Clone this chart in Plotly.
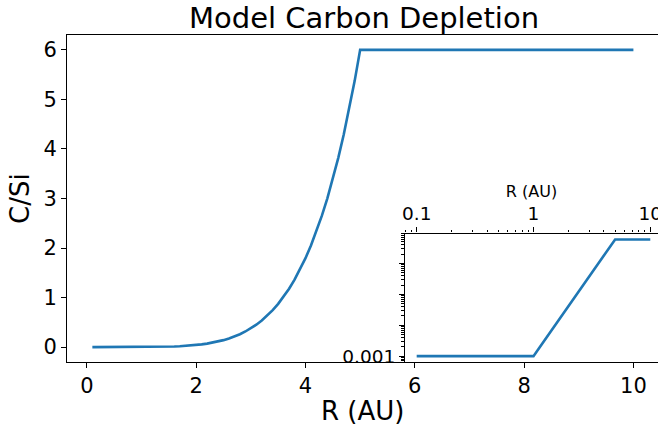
import plotly.graph_objects as go

# Carbon-to-silicon ratio across the disc radius
r_au = [0.1, 0.5, 1.0, 1.1, 1.2, 1.3, 1.4, 1.5, 1.6, 1.7, 1.8, 1.9,
        2.0, 2.1, 2.2, 2.3, 2.4, 2.5, 2.6, 2.7, 2.8, 2.9,
        3.0, 3.1, 3.2, 3.3, 3.4, 3.5, 3.6, 3.7, 3.8, 3.9,
        4.0, 4.1, 4.2, 4.3, 4.4, 4.5, 4.6, 4.7, 4.8, 4.9, 5.0, 10.0]
c_si = [0.001, 0.001, 0.001, 0.00167, 0.00268, 0.00413, 0.00616, 0.00895,
        0.0127, 0.0176, 0.0240, 0.0321,
        0.0424, 0.0552, 0.0709, 0.0902, 0.1135, 0.1415, 0.175, 0.215, 0.261, 0.316,
        0.379, 0.453, 0.538, 0.635, 0.746, 0.873, 1.016, 1.178, 1.361, 1.566,
        1.796, 2.052, 2.337, 2.654, 3.004, 3.393, 3.821, 4.291, 4.808, 5.374,
        6.0, 6.0]

main_xticks = [0, 2, 4, 6, 8, 10]
main_yticks = [0, 1, 2, 3, 4, 5, 6]
inset_xticks = [0.1, 1, 10]
inset_xlabels = ["0.1", "1", "10"]
inset_yticks = [0.001, 0.01, 0.1, 1, 10]
inset_ylabels = ["0.001", "", "", "", ""]

W, H = 658, 430
ML, MR, MT, MB = 67, 0, 35, 68
FONT = "DejaVu Sans"
BLUE = "#1f77b4"

# inset box in pixels
inset_left, inset_top = 405, 233.5
pw, ph = W - ML - MR, H - MT - MB
inset_dx = [(inset_left - ML) / pw, 1.0]
inset_dy = [0.0, (H - MB - inset_top) / ph]

# log-decade minor positions
minor_x = [m * 10.0 ** e for e in (-2, -1, 0, 1) for m in range(2, 10)]
minor_y = [m * 10.0 ** e for e in (-4, -3, -2, -1, 0) for m in range(2, 10)]


def px_x(px):
    return (px - ML) / pw


def px_y(py):
    return (H - MB - py) / ph


fig = go.Figure()
fig.add_trace(go.Scatter(x=r_au, y=c_si, mode="lines",
                         line=dict(color=BLUE, width=2.6), showlegend=False))
fig.add_trace(go.Scatter(x=r_au, y=c_si, mode="lines", xaxis="x2", yaxis="y2",
                         line=dict(color=BLUE, width=2.6), showlegend=False))

axis_common = dict(showgrid=False, zeroline=False, showline=True,
                   linecolor="black", linewidth=1.1, ticks="outside",
                   tickcolor="black", tickwidth=1.1, ticklen=5,
                   ticklabeloverflow="allow", automargin=False)

fig.update_layout(
    width=W, height=H,
    margin=dict(l=ML, r=MR, t=MT, b=MB, autoexpand=False),
    paper_bgcolor="white", plot_bgcolor="white",
    font=dict(family=FONT, color="black"),
    xaxis=dict(axis_common, domain=[0, 1], range=[-0.364, 10.45],
               tickmode="array", tickvals=main_xticks, mirror=True,
               tickfont=dict(size=21)),
    yaxis=dict(axis_common, domain=[0, 1], range=[-0.30, 6.30],
               tickmode="array", tickvals=main_yticks,
               tickfont=dict(size=21)),
    xaxis2=dict(axis_common, type="log", domain=inset_dx, anchor="y2",
                side="top", range=[-1.1, 1.066],
                mirror=True, tickmode="array", tickvals=inset_xticks,
                ticktext=inset_xlabels, tickfont=dict(size=18.5),
                minor=dict(ticks="outside", ticklen=2.5, tickwidth=0.9,
                           tickcolor="black", tickmode="array",
                           tickvals=minor_x),
                title=dict(text="R (AU)", font=dict(size=16), standoff=1)),
    yaxis2=dict(axis_common, type="log", domain=inset_dy, anchor="x2",
                range=[-3.19, 0.97], tickmode="array", tickvals=inset_yticks,
                ticktext=inset_ylabels, tickfont=dict(size=18.5),
                minor=dict(ticks="outside", ticklen=2.5, tickwidth=0.9,
                           tickcolor="black", tickmode="array",
                           tickvals=minor_y)),
    annotations=[
        dict(text="Model Carbon Depletion", xref="paper", yref="paper",
             x=px_x(364), y=px_y(18), yanchor="middle", xanchor="center",
             showarrow=False, font=dict(size=29, family=FONT)),
        dict(text="R (AU)", xref="paper", yref="paper",
             x=px_x(362), y=px_y(411), yanchor="middle", xanchor="center",
             showarrow=False, font=dict(size=26, family=FONT)),
        dict(text="C/Si", xref="paper", yref="paper", textangle=-90,
             x=px_x(20), y=px_y(199), yanchor="middle", xanchor="center",
             showarrow=False, font=dict(size=26, family=FONT)),
    ],
)

# white backing behind the inset so it reads as a separate panel
fig.add_shape(type="rect", xref="paper", yref="paper", layer="below",
              x0=inset_dx[0], x1=1, y0=0, y1=inset_dy[1],
              fillcolor="white", line=dict(width=0))

fig.write_html("out.html")
